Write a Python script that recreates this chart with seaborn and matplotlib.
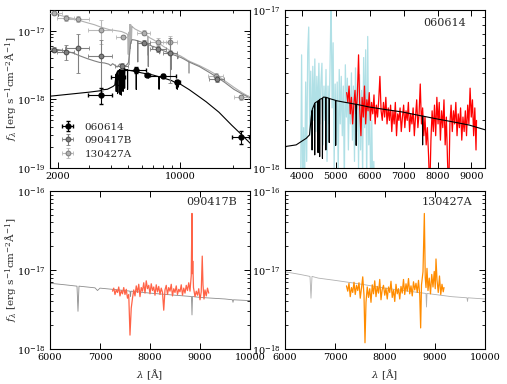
import numpy as np
import seaborn as sns
import matplotlib.pyplot as plt
from matplotlib.ticker import NullFormatter, FixedLocator, LogLocator

UNIT = 1e-18  # all fluxes below are in units of 1e-18 erg/s/cm2/A

# ---- broad-band photometry (top-left panel) ----
phot_wl_060614 = [3510, 4440, 5550, 6490, 8000, 9600, 22200]
phot_f_060614 = [1.15, 2.1, 2.67, 2.26, 2.2, 1.78, 0.28]
phot_xerr_060614 = [550, 400, 800, 200, 1450, 300, 2500]
phot_yerr_060614 = [0.3, 0.5, 0.25, 0.1, 0.1, 0.1, 0.06]

phot_wl_090417B = [1900, 2220, 2600, 3510, 4620, 6170, 7500, 8770, 16200]
phot_f_090417B = [5.3, 4.9, 5.6, 4.3, 3.06, 6.7, 5.4, 4.75, 2.0]
phot_xerr_090417B = [200, 250, 400, 550, 400, 500, 800, 800, 1600]
phot_yerr_090417B = [0.4, 1.2, 3.2, 3.0, 0.3, 0.5, 0.5, 3.0, 0.2]

phot_wl_130427A = [1900, 2220, 2600, 3510, 4700, 6170, 7500, 8770, 16000, 22300]
phot_f_130427A = [17.8, 15.5, 15.0, 10.3, 8.2, 9.3, 6.9, 6.8, 2.2, 1.07]
phot_xerr_130427A = [200, 250, 400, 550, 400, 500, 800, 800, 1600, 2000]
phot_yerr_130427A = [1.0, 1.5, 1.5, 4.0, 0.5, 0.8, 0.8, 1.5, 0.2, 0.1]

# ---- host templates ----
model_wl_060614 = [1800, 2200, 2660, 3000, 3470, 3540, 3830, 3980, 4126, 4224, 4274, 4295, 4300, 4305,
                   4372, 4377, 4382, 4470, 4475, 4480, 4518, 4523, 4528, 4600, 4605, 4610, 4635,
                   4700, 4705, 4710, 4800, 4805, 4810, 4990, 4995, 5000, 5200, 5500, 5595, 5600, 5605,
                   5988, 6480, 6970, 7460, 7555, 7560, 7565, 7950, 8440, 8930, 9420, 9500, 9505, 9510,
                   9600, 9605, 9610, 9700, 9705, 9710, 9860, 11250, 12500, 14050, 16600, 19650, 22250,
                   24600, 25000]
model_f_060614 = [1.11, 1.17, 1.23, 1.27, 1.33, 1.37, 1.40, 1.47, 1.54, 1.62, 2.10, 2.30, 1.30, 2.35,
                  2.55, 1.21, 2.58, 2.65, 1.25, 2.66, 2.70, 1.18, 2.72, 2.76, 1.15, 2.77, 2.81,
                  2.80, 1.30, 2.80, 2.76, 1.45, 2.75, 2.68, 1.39, 2.67, 2.62, 2.55, 2.53, 1.39, 2.53,
                  2.43, 2.34, 2.26, 2.15, 2.13, 1.40, 2.13, 2.05, 1.96, 1.87, 1.74, 1.75, 1.45, 1.75,
                  1.74, 1.40, 1.74, 1.72, 1.50, 1.72, 1.70, 1.38, 1.14, 0.92, 0.65, 0.42, 0.31,
                  0.24, 0.23]

model_wl_090417B = [1800, 2000, 2200, 2450, 2670, 2950, 3230, 3450, 3690, 3900, 4000, 4100, 4210, 4350,
                    4510, 4650, 4800, 4950, 5050, 5130, 5200, 5300, 5500, 5700, 5710, 5720, 6000, 6300,
                    6540, 6560, 6580, 6900, 6950, 7000, 7500, 7600, 7610, 7620, 8000, 8500, 8830, 8840,
                    8850, 9000, 9500, 9650, 9660, 9670, 10000, 10500, 11200, 12850, 14500, 16200, 18000,
                    20200, 22500, 24600, 25000]
model_f_090417B = [5.44, 5.3, 5.08, 4.7, 4.29, 3.9, 3.62, 3.45, 3.38, 3.25, 3.1, 3.3, 3.16, 2.95,
                   3.27, 3.1, 3.0, 3.2, 3.4, 4.6, 6.6, 7.4, 7.3, 7.1, 3.5, 7.1, 6.8, 6.5,
                   6.25, 3.0, 6.25, 5.95, 5.5, 5.9, 5.5, 5.4, 4.6, 5.4, 5.1, 4.8, 4.62, 2.7,
                   4.62, 4.5, 4.3, 4.2, 3.9, 4.2, 4.1, 3.85, 3.5, 3.0, 2.5, 2.1, 1.75,
                   1.4, 1.2, 1.07, 1.05]

model_wl_130427A = [1800, 2000, 2200, 2450, 2670, 2950, 3230, 3500, 3950, 4300, 4620, 4900, 5000, 5040,
                    5070, 5110, 5140, 5170, 5210, 5250, 5290, 5340, 5500, 5750, 6000, 6300, 6500, 6520,
                    6540, 6667, 7000, 7333, 7600, 8000, 8667, 8820, 8830, 8840, 9333, 9640, 9650, 9660,
                    10000, 10500, 11200, 11210, 11220, 12850, 14500, 16200, 18000, 20200, 22500, 24600, 25000]
model_f_130427A = [17.8, 17.0, 16.0, 15.0, 14.0, 13.0, 12.2, 11.3, 10.3, 10.0, 9.7, 9.1, 8.8, 4.5,
                   9.5, 3.2, 12.3, 5.5, 12.2, 6.5, 11.6, 11.3, 10.6, 10.0, 9.5, 8.8, 8.3, 4.4,
                   8.3, 7.9, 7.4, 6.9, 6.5, 5.9, 5.2, 5.05, 3.4, 5.05, 4.6, 4.45, 4.0, 4.45,
                   4.3, 4.0, 3.6, 2.4, 3.6, 3.1, 2.65, 2.25, 1.85, 1.5, 1.25, 1.1, 1.08]

# ---- observed spectra ----
spec_wl_060614_blue = [3960, 3990, 4020, 4050, 4080, 4110, 4140, 4170, 4200, 4230, 4260, 4290, 4320, 4350,
                       4380, 4410, 4440, 4470, 4500, 4530, 4560, 4590, 4620, 4650, 4680, 4710, 4740, 4770,
                       4800, 4830, 4860, 4890, 4920, 4950, 4980, 5010, 5040, 5070, 5100, 5130, 5160, 5190,
                       5220, 5250, 5280, 5310, 5340, 5370, 5400, 5430, 5460, 5490, 5520, 5550, 5580, 5610,
                       5640, 5670, 5700, 5730, 5760, 5790, 5820, 5850, 5880, 5910, 5940, 5970, 6000, 6030,
                       6060, 6090, 6120, 6150]
spec_f_060614_blue = [0.7, 5.2, 0.6, 1.8, 0.8, 3.5, 1.1, 5.4, 7.8, 1.6, 4.1, 1.3, 4.4, 2.0,
                      4.9, 1.7, 3.8, 2.2, 4.6, 1.9, 3.5, 4.6, 1.4, 3.3, 2.0, 4.2, 1.1, 3.3,
                      1.9, 4.6, 12.0, 2.4, 6.2, 1.0, 3.4, 1.4, 3.5, 0.9, 4.2, 1.9, 3.8, 1.6,
                      3.3, 0.8, 4.5, 2.1, 3.7, 1.3, 3.1, 1.9, 4.0, 1.5, 3.3, 1.1, 4.3, 1.7,
                      3.4, 1.0, 3.9, 1.3, 3.1, 0.9, 5.0, 1.8, 5.6, 0.8, 6.8, 1.4, 2.6, 0.6,
                      2.0, 0.7, 1.1, 0.6]

spec_wl_060614_red = [5320, 5355, 5390, 5425, 5460, 5495, 5530, 5565, 5600, 5635, 5670, 5705, 5740, 5775,
                      5810, 5845, 5880, 5915, 5950, 5985, 6020, 6055, 6090, 6125, 6160, 6195, 6230, 6265,
                      6300, 6335, 6370, 6405, 6440, 6475, 6510, 6545, 6580, 6615, 6650, 6685, 6720, 6755,
                      6790, 6825, 6860, 6895, 6930, 6965, 7000, 7035, 7070, 7105, 7140, 7175, 7210, 7245,
                      7280, 7315, 7350, 7385, 7420, 7455, 7490, 7525, 7560, 7595, 7630, 7665, 7700, 7735,
                      7770, 7805, 7840, 7875, 7910, 7945, 7980, 8015, 8050, 8085, 8120, 8155, 8190, 8225,
                      8260, 8295, 8330, 8365, 8400, 8435, 8470, 8505, 8540, 8575, 8610, 8645, 8680, 8715,
                      8750, 8785, 8820, 8855, 8890, 8925, 8960, 8995, 9030, 9065, 9100, 9135, 9150]
spec_f_060614_red = [3.0, 2.6, 3.3, 2.2, 2.8, 1.9, 2.5, 3.1, 2.2, 2.9, 5.2, 2.4, 1.6, 2.8,
                     2.1, 3.3, 1.9, 2.7, 2.3, 3.0, 2.0, 2.6, 2.2, 2.9, 1.9, 2.5, 2.1, 2.7,
                     3.8, 2.3, 2.0, 2.6, 2.1, 2.8, 1.9, 2.4, 2.0, 2.5, 1.7, 2.3, 1.9, 2.6,
                     1.6, 2.2, 2.0, 2.4, 1.7, 2.1, 2.5, 1.8, 2.3, 2.0, 2.6, 1.7, 2.2, 1.9,
                     2.4, 1.6, 2.1, 2.7, 1.8, 2.2, 3.4, 1.9, 2.4, 1.6, 2.1, 1.4, 1.8, 1.2,
                     0.7, 1.5, 2.3, 1.7, 2.5, 1.6, 2.8, 1.9, 2.6, 1.5, 2.3, 1.8, 2.7, 1.4,
                     2.1, 1.1, 0.7, 1.9, 2.5, 1.7, 2.3, 1.9, 2.6, 1.6, 2.2, 1.8, 2.4, 1.5,
                     2.1, 1.7, 2.3, 1.6, 2.5, 1.9, 3.2, 2.1, 2.7, 1.6, 2.4, 1.3, 2.0]

spec_wl_090417B = [7250, 7275, 7300, 7325, 7350, 7375, 7400, 7425, 7450, 7475, 7500, 7525, 7550, 7575,
                   7600, 7625, 7650, 7675, 7700, 7725, 7750, 7775, 7800, 7825, 7850, 7875, 7900, 7925,
                   7950, 7975, 8000, 8025, 8050, 8075, 8100, 8125, 8150, 8175, 8200, 8225, 8250, 8275,
                   8300, 8325, 8350, 8375, 8400, 8425, 8450, 8475, 8500, 8525, 8550, 8575, 8600, 8625,
                   8650, 8675, 8700, 8725, 8750, 8775, 8800, 8825, 8840, 8848, 8855, 8870, 8900, 8925,
                   8950, 8975, 9000, 9025, 9045, 9060, 9080, 9100, 9125, 9150, 9175]
spec_f_090417B = [5.4, 5.9, 4.9, 5.6, 5.2, 6.1, 4.7, 5.5, 5.0, 6.0, 4.9, 5.7, 4.4, 4.9,
                  1.5, 3.3, 4.4, 5.6, 4.7, 6.3, 5.2, 6.6, 4.6, 6.0, 5.4, 6.9, 5.1, 7.3,
                  5.8, 6.4, 5.0, 6.7, 5.5, 6.1, 4.8, 6.5, 5.3, 6.2, 4.9, 5.9, 5.2, 3.1,
                  5.6, 6.4, 4.9, 6.0, 5.4, 6.6, 4.7, 5.8, 5.2, 6.3, 4.9, 5.7, 5.3, 6.5,
                  4.8, 5.9, 5.1, 6.4, 5.5, 6.9, 5.4, 8.5, 52.0, 9.0, 13.0, 6.0, 4.6, 5.4,
                  4.8, 5.8, 4.2, 5.3, 15.0, 6.5, 4.3, 5.6, 4.7, 5.9, 5.1]

spec_wl_130427A = [7230, 7255, 7280, 7305, 7330, 7355, 7380, 7405, 7430, 7455, 7480, 7505, 7530, 7555,
                   7580, 7600, 7620, 7645, 7670, 7695, 7720, 7745, 7770, 7795, 7820, 7845, 7870, 7895,
                   7920, 7945, 7970, 7995, 8020, 8045, 8070, 8095, 8120, 8145, 8170, 8195, 8220, 8245,
                   8270, 8295, 8320, 8345, 8370, 8395, 8420, 8445, 8470, 8495, 8520, 8545, 8570, 8595,
                   8620, 8645, 8670, 8695, 8713, 8730, 8760, 8787, 8805, 8820, 8840, 8860, 8885, 8910,
                   8935, 8960, 8985, 9005, 9020, 9040, 9065, 9090, 9115, 9140, 9165, 9180]
spec_f_130427A = [6.3, 5.4, 6.8, 4.6, 6.0, 5.2, 7.0, 4.9, 6.4, 5.5, 6.9, 4.4, 5.9, 8.2,
                  4.8, 1.2, 3.9, 6.1, 4.5, 5.8, 3.9, 6.5, 5.0, 7.3, 4.6, 6.2, 5.1, 7.6,
                  4.2, 5.7, 6.4, 4.8, 5.9, 4.3, 6.1, 5.2, 7.2, 4.5, 5.6, 4.0, 6.6, 5.0,
                  5.8, 4.3, 6.2, 5.1, 7.6, 4.9, 6.7, 5.4, 7.8, 5.0, 6.3, 4.7, 7.1, 5.6,
                  6.8, 5.2, 7.4, 4.8, 1.85, 6.5, 9.5, 52.0, 8.0, 6.0, 10.5, 5.5, 7.9, 5.0,
                  8.8, 6.1, 9.6, 5.8, 13.8, 7.5, 5.2, 8.4, 4.9, 6.6, 5.3, 6.0]

grb_names = ["060614", "090417B", "130427A"]

sns.set_style("ticks", {"xtick.direction": "in", "ytick.direction": "in"})
plt.rcParams["font.family"] = ["DejaVu Serif"]
plt.rcParams["mathtext.fontset"] = "dejavuserif"
plt.rcParams["xtick.top"] = True
plt.rcParams["ytick.right"] = True
plt.rcParams["axes.edgecolor"] = "black"
plt.rcParams["axes.linewidth"] = 0.8
plt.rcParams["xtick.color"] = "black"
plt.rcParams["ytick.color"] = "black"

fig, axes = plt.subplots(2, 2, figsize=(5.07, 3.84), dpi=100)
fig.subplots_adjust(left=0.0986, right=0.9566, bottom=0.0911, top=0.974, wspace=0.175, hspace=0.146)
ax_sed, ax_060614, ax_090417B, ax_130427A = axes.flatten()

ylabel = r"$f_\lambda$ [erg s$^{-1}$cm$^{-2}$Å$^{-1}$]"
xlabel = r"$\lambda$ [Å]"


def flux(values):
    return np.array(values) * UNIT


def line(ax, wl, f, color, lw=0.8, z=2):
    sns.lineplot(x=wl, y=flux(f), ax=ax, color=color, lw=lw, sort=False, estimator=None, zorder=z)


for ax in axes.flatten():
    ax.set_yscale("log")
    ax.tick_params(which="major", length=4, width=0.7, labelsize=7, pad=3)
    ax.tick_params(which="minor", length=2, width=0.6)
    ax.yaxis.set_minor_locator(LogLocator(subs=np.arange(2, 10)))
    ax.yaxis.set_minor_formatter(NullFormatter())

# top-left: SEDs
ax = ax_sed
ax.set_xscale("log")
line(ax, model_wl_130427A, model_f_130427A, "#b0b0b0")
line(ax, model_wl_090417B, model_f_090417B, "#808080")
line(ax, model_wl_060614, model_f_060614, "black")
eb1 = ax.errorbar(phot_wl_060614, flux(phot_f_060614), xerr=phot_xerr_060614, yerr=flux(phot_yerr_060614),
                  fmt="o", ms=3.5, mfc="black", mec="black", ecolor="black", elinewidth=0.8, capsize=1.5,
                  zorder=5)
eb2 = ax.errorbar(phot_wl_090417B, flux(phot_f_090417B), xerr=phot_xerr_090417B, yerr=flux(phot_yerr_090417B),
                  fmt="o", ms=3.5, mfc="#808080", mec="#404040", mew=0.6, ecolor="#808080", elinewidth=0.8,
                  capsize=1.5, zorder=4)
eb3 = ax.errorbar(phot_wl_130427A, flux(phot_f_130427A), xerr=phot_xerr_130427A, yerr=flux(phot_yerr_130427A),
                  fmt="o", ms=3.5, mfc="#b0b0b0", mec="#707070", mew=0.6, ecolor="#b8b8b8", elinewidth=0.8,
                  capsize=1.5, zorder=3)
ax.set_xlim(1800, 25000)
ax.set_ylim(1e-19, 2e-17)
ax.xaxis.set_major_locator(FixedLocator([2000, 10000]))
ax.set_xticklabels(["2000", "10000"])
ax.xaxis.set_minor_locator(FixedLocator([3000, 4000, 5000, 6000, 7000, 8000, 9000, 20000]))
ax.xaxis.set_minor_formatter(NullFormatter())
ax.set_ylabel(ylabel, fontsize=7.5, labelpad=-1)
ax.legend([eb1, eb2, eb3], grb_names, loc="lower left", frameon=False, fontsize=7.5,
          handlelength=1.6, handletextpad=0.8, labelspacing=0.4, borderaxespad=0.5)

# top-right: 060614 spectrum
ax = ax_060614
line(ax, spec_wl_060614_blue, spec_f_060614_blue, "powderblue", lw=0.9)
line(ax, spec_wl_060614_red, spec_f_060614_red, "red", lw=0.9)
line(ax, model_wl_060614, model_f_060614, "black", lw=0.8, z=3)
ax.set_xlim(3500, 9400)
ax.set_ylim(1e-18, 1e-17)
ax.set_xticks([4000, 5000, 6000, 7000, 8000, 9000])
ax.text(0.80, 0.92, grb_names[0], transform=ax.transAxes, ha="center", va="center", fontsize=8)

# bottom-left: 090417B
ax = ax_090417B
line(ax, model_wl_090417B, model_f_090417B, "#8c8c8c", lw=0.6)
line(ax, spec_wl_090417B, spec_f_090417B, "tomato", lw=0.9)
ax.set_xlim(6000, 10000)
ax.set_ylim(1e-18, 1e-16)
ax.set_xticks([6000, 7000, 8000, 9000, 10000])
ax.set_ylabel(ylabel, fontsize=7.5, labelpad=-1)
ax.set_xlabel(xlabel, fontsize=7.5)
ax.text(0.81, 0.93, grb_names[1], transform=ax.transAxes, ha="center", va="center", fontsize=8)

# bottom-right: 130427A
ax = ax_130427A
line(ax, model_wl_130427A, model_f_130427A, "#b0b0b0", lw=0.6)
line(ax, spec_wl_130427A, spec_f_130427A, "darkorange", lw=0.9)
ax.set_xlim(6000, 10000)
ax.set_ylim(1e-18, 1e-16)
ax.set_xticks([6000, 7000, 8000, 9000, 10000])
ax.set_xlabel(xlabel, fontsize=7.5)
ax.text(0.81, 0.93, grb_names[2], transform=ax.transAxes, ha="center", va="center", fontsize=8)

fig.savefig("out.png", dpi=100)
